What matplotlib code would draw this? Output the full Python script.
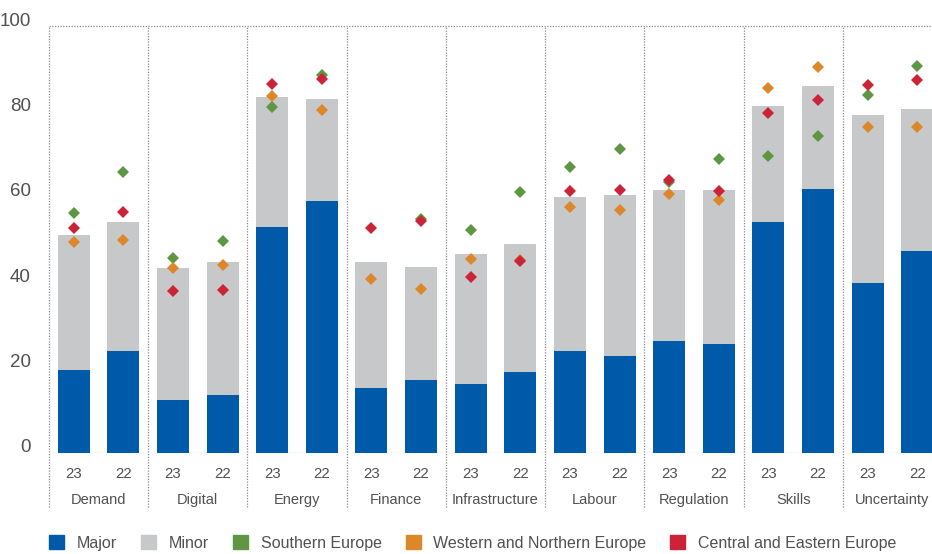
import numpy as np
import matplotlib.pyplot as plt
import matplotlib.transforms as mtransforms
from matplotlib.patches import Patch

plt.rcParams['font.family'] = ['Liberation Sans', 'DejaVu Sans']

########## Data ##########

categories = ['Demand', 'Digital', 'Energy', 'Finance', 'Infrastructure',
              'Labour', 'Regulation', 'Skills', 'Uncertainty']
years = ['23', '22']

# one value per bar: categories x years, flattened (23 then 22)
major = [19.4, 24.0, 12.4, 13.6, 52.9, 59.0, 15.3, 17.1, 16.2, 19.0,
         24.0, 22.7, 26.2, 25.5, 54.1, 61.8, 39.8, 47.3]
total = [51.0, 54.2, 43.3, 44.7, 83.4, 82.9, 44.7, 43.6, 46.6, 48.9,
         60.0, 60.4, 61.6, 61.6, 81.3, 85.9, 79.2, 80.6]
minor = [t - m for t, m in zip(total, major)]

southern = [56.2, 65.7, 45.7, 49.6, 81.0, 88.6, np.nan, 54.9, 52.2, 61.1,
            66.9, 71.1, 63.5, 68.8, 69.5, 74.3, 83.9, 90.6]
western = [49.3, 49.8, 43.4, 44.0, 83.7, 80.4, 40.7, 38.4, 45.4, 45.3,
           57.6, 56.8, 60.6, 59.2, 85.4, 90.5, 76.4, 76.3]
central = [52.7, 56.4, 37.9, 38.1, 86.4, 87.5, 52.7, 54.3, 41.3, 45.0,
           61.3, 61.5, 63.9, 61.4, 79.6, 82.7, 86.2, 87.4]

########## Plotting ##########

cBlue = '#005AAA'
cGrey = '#C7C8CA'
cGreen = '#5E9643'
cOrange = '#DD862A'
cRed = '#CC2339'
cText = '#505052'
cDot = '#8A8A8A'

fig = plt.figure(figsize=(9.32, 5.54), dpi=100)
ax = fig.add_axes([49/932, 101/554, 893/932, 427/554])

x = np.arange(len(major))
w = 0.645

ax.axhline(0, color=cDot, lw=0.9, dashes=(1, 1.2), zorder=1)
ax.axhline(100, color=cDot, lw=0.9, dashes=(1, 1.2), zorder=1, clip_on=False)

ax.bar(x, major, w, color=cBlue, zorder=2)
ax.bar(x, minor, w, bottom=major, color=cGrey, zorder=2)

ax.plot(x, southern, 'D', color=cGreen, ms=6.3, mew=0, zorder=3)
ax.plot(x, western, 'D', color=cOrange, ms=6.3, mew=0, zorder=4)
ax.plot(x, central, 'D', color=cRed, ms=6.3, mew=0, zorder=5)

# dotted separators between categories, running down past the axis
trans = mtransforms.blended_transform_factory(ax.transData, ax.transAxes)
for i in range(len(categories)):
    ax.plot([2*i - 0.5, 2*i - 0.5], [-0.126, 1.0], transform=trans,
            color=cDot, lw=0.9, dashes=(1, 1.2), clip_on=False, zorder=1)
    ax.text(2*i + 0.5, -0.110, categories[i], transform=trans,
            ha='center', va='center', fontsize=10.5, color=cText)

ax.set_xlim(-0.5, 17.5)
ax.set_ylim(0, 100)

for s in ax.spines.values():
    s.set_visible(False)

ax.set_xticks(x, years * len(categories))
ax.tick_params(axis='x', length=0, pad=10, labelsize=10.8, labelcolor=cText)

ax.set_yticks([0, 20, 40, 60, 80, 100])
ax.tick_params(axis='y', length=0, pad=13, labelsize=13.5, labelcolor=cText)
offset = mtransforms.ScaledTranslation(0, 7/100, fig.dpi_scale_trans)
for lab in ax.get_yticklabels():
    lab.set_transform(lab.get_transform() + offset)

handles = [Patch(color=cBlue, label='Major'),
           Patch(color=cGrey, label='Minor'),
           Patch(color=cGreen, label='Southern Europe'),
           Patch(color=cOrange, label='Western and Northern Europe'),
           Patch(color=cRed, label='Central and Eastern Europe')]
leg = fig.legend(handles=handles, loc='center left', ncol=5,
                 bbox_to_anchor=(49/932, 11/554), frameon=False,
                 fontsize=11.5, borderpad=0, borderaxespad=0,
                 handlelength=0.94, handleheight=0.94,
                 handletextpad=0.8, columnspacing=1.5)
for t in leg.get_texts():
    t.set_color(cText)

plt.savefig('out.png', dpi=100)
